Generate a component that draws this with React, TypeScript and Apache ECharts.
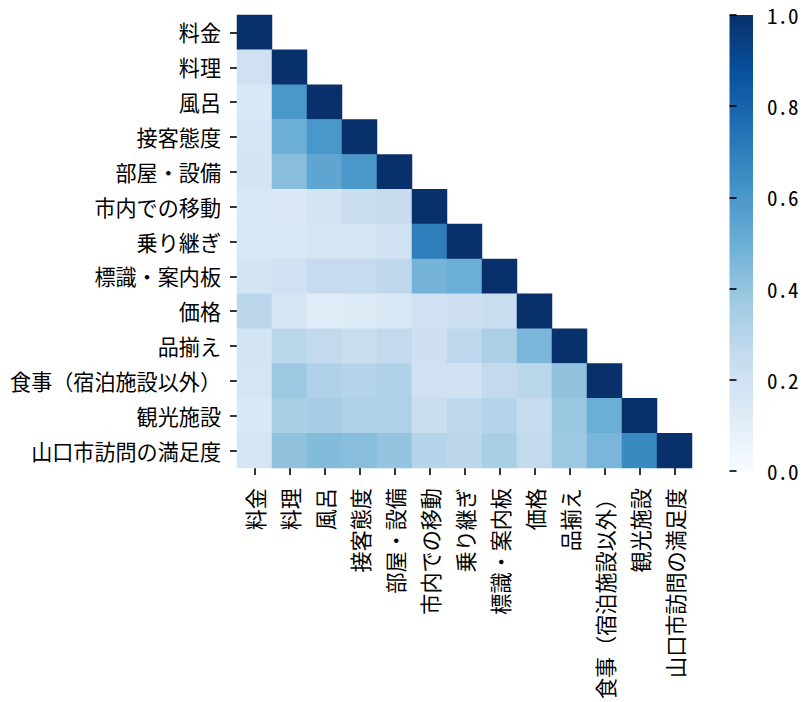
import React, { useEffect, useRef } from "react";
import * as echarts from "echarts";

const categories = [
  "料金",
  "料理",
  "風呂",
  "接客態度",
  "部屋・設備",
  "市内での移動",
  "乗り継ぎ",
  "標識・案内板",
  "価格",
  "品揃え",
  "食事（宿泊施設以外）",
  "観光施設",
  "山口市訪問の満足度",
];

// lower-triangle correlation rows (row i has i+1 values)
const row料金 = [1];
const row料理 = [0.2, 1];
const row風呂 = [0.15, 0.6, 1];
const row接客態度 = [0.17, 0.5, 0.6, 1];
const row部屋設備 = [0.18, 0.43, 0.54, 0.6, 1];
const row市内移動 = [0.15, 0.14, 0.18, 0.23, 0.24, 1];
const row乗り継ぎ = [0.16, 0.15, 0.17, 0.17, 0.2, 0.7, 1];
const row標識 = [0.18, 0.2, 0.25, 0.25, 0.27, 0.475, 0.5, 1];
const row価格 = [0.28, 0.17, 0.12, 0.135, 0.15, 0.205, 0.21, 0.235, 1];
const row品揃え = [0.18, 0.29, 0.26, 0.23, 0.26, 0.21, 0.27, 0.335, 0.46, 1];
const row食事 = [0.17, 0.38, 0.32, 0.3, 0.32, 0.2, 0.2, 0.26, 0.29, 0.41, 1];
const row観光施設 = [0.15, 0.34, 0.35, 0.325, 0.325, 0.23, 0.27, 0.3, 0.24, 0.385, 0.5, 1];
const row満足度 = [0.17, 0.41, 0.44, 0.43, 0.4, 0.3, 0.28, 0.34, 0.26, 0.38, 0.465, 0.655, 1];

const rows = [
  row料金, row料理, row風呂, row接客態度, row部屋設備, row市内移動, row乗り継ぎ,
  row標識, row価格, row品揃え, row食事, row観光施設, row満足度,
];

const colorbarTicks = [0, 0.2, 0.4, 0.6, 0.8, 1.0];

const blues = [
  "#f7fbff", "#deebf7", "#c6dbef", "#9ecae1", "#6baed6",
  "#4292c6", "#2171b5", "#08519c", "#08306b",
];

const FONT = "'Noto Sans Mono CJK JP', 'Noto Sans CJK JP', monospace";
const FS = 21.1;

export default function App() {
  const ref = useRef<HTMLDivElement>(null);
  useEffect(() => {
    if (!ref.current) return;
    const chart = echarts.init(ref.current, undefined, { renderer: "svg" });
    const data: [number, number, number][] = [];
    rows.forEach((r, i) => r.forEach((v, j) => data.push([j, i, v])));

    const gridL = 237, gridT = 15, gridW = 455, gridH = 456;
    const cbL = 729.5, cbW = 23.5;

    chart.setOption({
      animation: false,
      textStyle: { fontFamily: FONT },
      grid: [
        { left: gridL, top: gridT, width: gridW, height: gridH },
        { left: cbL, top: gridT, width: cbW, height: gridH },
      ],
      xAxis: [
        {
          type: "category",
          data: categories,
          gridIndex: 0,
          axisLine: { show: false },
          axisTick: { show: true, alignWithLabel: true, length: 7, lineStyle: { color: "#000", width: 1.6 } },
          axisLabel: { rotate: 90, fontSize: FS, color: "#000", margin: 20, interval: 0, fontFamily: FONT },
          splitLine: { show: false },
        },
        { type: "value", gridIndex: 1, show: false, min: 0, max: 1 },
      ],
      yAxis: [
        {
          type: "category",
          data: categories,
          inverse: true,
          gridIndex: 0,
          axisLine: { show: false },
          axisTick: { show: true, alignWithLabel: true, length: 7, lineStyle: { color: "#000", width: 1.6 } },
          axisLabel: { fontSize: FS, color: "#000", margin: 16, interval: 0, fontFamily: FONT },
          splitLine: { show: false },
        },
        {
          type: "value",
          gridIndex: 1,
          min: colorbarTicks[0],
          max: colorbarTicks[colorbarTicks.length - 1],
          interval: 0.2,
          position: "right",
          axisLine: { show: false },
          axisTick: { show: true, length: 7, lineStyle: { color: "#000", width: 1.6 } },
          axisLabel: {
            fontSize: FS,
            color: "#000",
            margin: 14,
            fontFamily: FONT,
            formatter: (v: number) => v.toFixed(1),
          },
          splitLine: { show: false },
        },
      ],
      visualMap: {
        show: false,
        min: 0,
        max: 1,
        seriesIndex: 0,
        inRange: { color: blues },
      },
      graphic: [
        {
          type: "rect",
          shape: { x: cbL, y: gridT, width: cbW, height: gridH },
          style: {
            fill: new echarts.graphic.LinearGradient(
              0, 1, 0, 0,
              blues.map((c, i) => ({ offset: i / (blues.length - 1), color: c }))
            ),
          },
          z: -1,
        },
      ],
      series: [
        {
          type: "heatmap",
          xAxisIndex: 0,
          yAxisIndex: 0,
          data,
          itemStyle: { borderWidth: 0 },
          emphasis: { disabled: true },
        },
        {
          type: "scatter",
          xAxisIndex: 1,
          yAxisIndex: 1,
          data: [],
        },
      ],
    });
    return () => chart.dispose();
  }, []);
  return (
    <div
      ref={ref}
      style={{ position: "absolute", left: 0, top: 0, width: 803, height: 702, background: "#fff" }}
    />
  );
}
